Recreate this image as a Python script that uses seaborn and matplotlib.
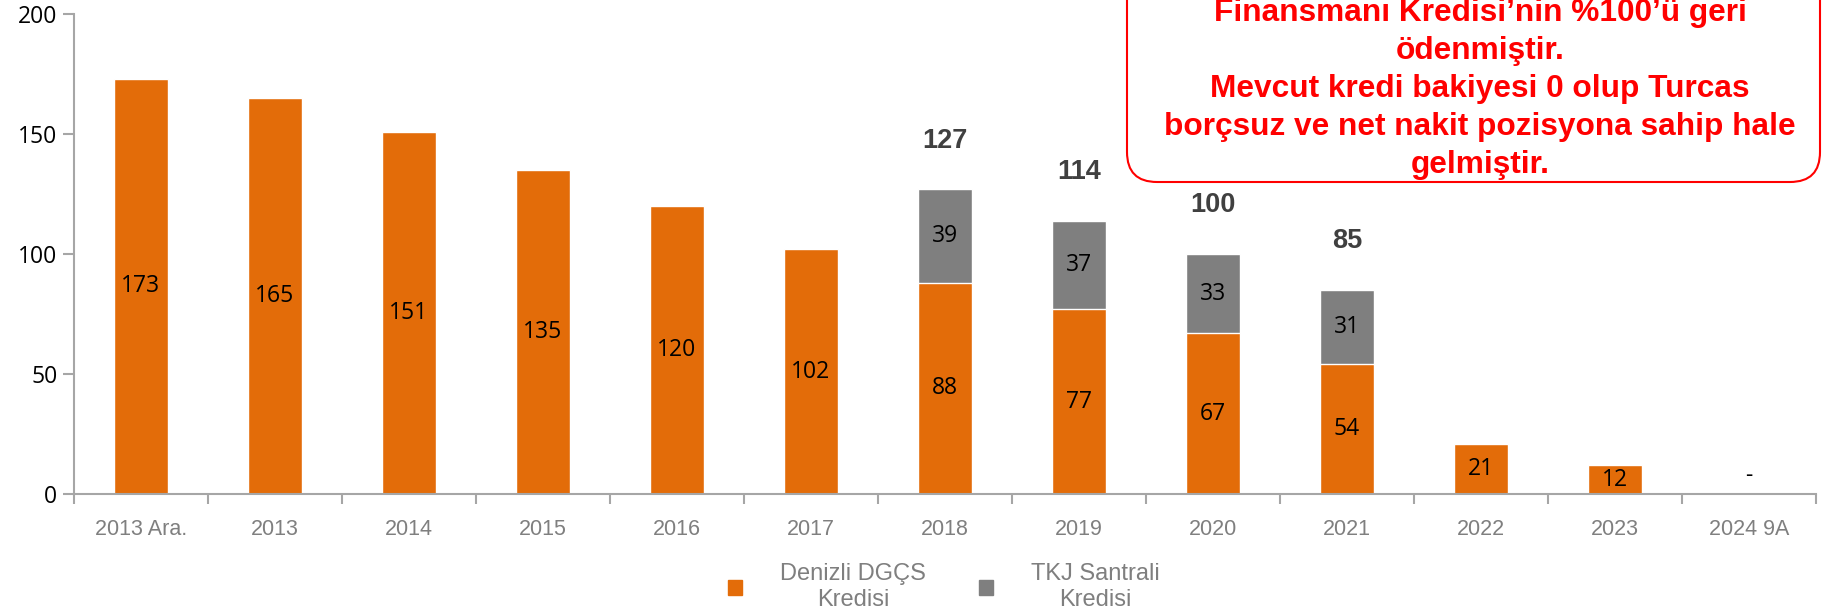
import matplotlib
matplotlib.use("Agg")
import matplotlib.pyplot as plt
import matplotlib.patches as mpatches
from matplotlib.transforms import IdentityTransform
import pandas as pd
import seaborn as sns

# Data
years = ['2013 Ara.', '2013', '2014', '2015', '2016', '2017', '2018',
         '2019', '2020', '2021', '2022', '2023', '2024 9A']
denizli = [173, 165, 151, 135, 120, 102, 88, 77, 67, 54, 21, 12, 0]
tkj = [0, 0, 0, 0, 0, 0, 39, 37, 33, 31, 0, 0, 0]
total = [d + t for d, t in zip(denizli, tkj)]
y_ticks = [0, 50, 100, 150, 200]

note_lines = [
    'Finansmanı Kredisi’nin %100’ü geri',
    'ödenmiştir.',
    'Mevcut kredi bakiyesi 0 olup Turcas',
    'borçsuz ve net nakit pozisyona sahip hale',
    'gelmiştir.',
]

ORANGE = '#E36C09'
GREY = '#7F7F7F'

sns.set_theme(style='white')
plt.rcParams['font.family'] = ['Open Sans', 'DejaVu Sans']

df = pd.DataFrame({'year': years, 'denizli': denizli, 'tkj': tkj, 'total': total})

fig, ax = plt.subplots(figsize=(18.22, 6.16), dpi=100)
fig.subplots_adjust(left=0.0406, right=0.9967, bottom=0.198, top=0.977)

# grey = total (TKJ on top), orange drawn over it
sns.barplot(data=df, x='year', y='total', color=GREY, width=0.4, saturation=1, ax=ax)
sns.barplot(data=df, x='year', y='denizli', color=ORANGE, width=0.4, saturation=1, ax=ax)

# value labels
for i, row in df.iterrows():
    if row['denizli'] > 0:
        ax.text(i, row['denizli'] / 2, str(row['denizli']), ha='center', va='center',
                fontsize=16.5, color='black')
    else:
        ax.annotate('-', (i, 0), xytext=(0, 13), textcoords='offset points',
                    ha='center', va='center', fontsize=16.5, color='black')
    if row['tkj'] > 0:
        ax.text(i, row['denizli'] + row['tkj'] / 2, str(row['tkj']), ha='center',
                va='center', fontsize=16.5, color='black')
        ax.annotate(str(row['total']), (i, row['total']), xytext=(0, 35),
                    textcoords='offset points', ha='center', va='center',
                    fontsize=19.5, fontweight='bold', color='#404040',
                    family='Liberation Sans')

# axes styling
ax.set_ylim(0, 200)
ax.set_xlim(-0.5, len(years) - 0.5)
ax.set_yticks(y_ticks)
ax.set_xlabel('')
ax.set_ylabel('')
ax.set_xticks(range(len(years)))
ax.set_xticklabels(years, fontsize=15.5, color=GREY, family='Liberation Sans')
ax.set_xticks([i - 0.5 for i in range(len(years) + 1)], minor=True)
ax.tick_params(axis='x', which='major', length=0, pad=18)
ax.tick_params(axis='x', which='minor', length=7, width=1.5, color='#A6A6A6',
               direction='out', bottom=True)
ax.tick_params(axis='y', length=8, width=1.5, color='#A6A6A6', direction='out',
               left=True, labelsize=16.5, labelcolor='black', pad=4)
for side in ['top', 'right']:
    ax.spines[side].set_visible(False)
for side in ['left', 'bottom']:
    ax.spines[side].set_color('#A6A6A6')
    ax.spines[side].set_linewidth(1.5)
ax.grid(False)

# legend
handles = [mpatches.Patch(color=ORANGE), mpatches.Patch(color=GREY)]
leg = fig.legend(handles, ['Denizli DGÇS\nKredisi', 'TKJ Santrali\nKredisi'],
                 loc='center', bbox_to_anchor=(0.518, 0.047), ncol=2, frameon=False,
                 prop={'family': 'Liberation Sans', 'size': 17},
                 handlelength=0.6, handleheight=0.6, handletextpad=1.6,
                 columnspacing=2.25)
for t in leg.get_texts():
    t.set_color(GREY)
    t.set_multialignment('center')

# red note box (its top runs off the figure, as in the original slide)
box = mpatches.FancyBboxPatch((1127, 434), 693, 320,
                              boxstyle='round,pad=0,rounding_size=30',
                              linewidth=1.5, edgecolor='#FF0000', facecolor='white',
                              transform=IdentityTransform())
fig.add_artist(box)
for line, ypix in zip(note_lines, [13, 51, 89, 127, 165]):
    fig.text(1480 / 1822, 1 - ypix / 616, line, ha='center', va='center',
             color='#FF0000', fontsize=22.8, fontweight='bold', family='Liberation Sans')

fig.savefig('out.png', dpi=100)
